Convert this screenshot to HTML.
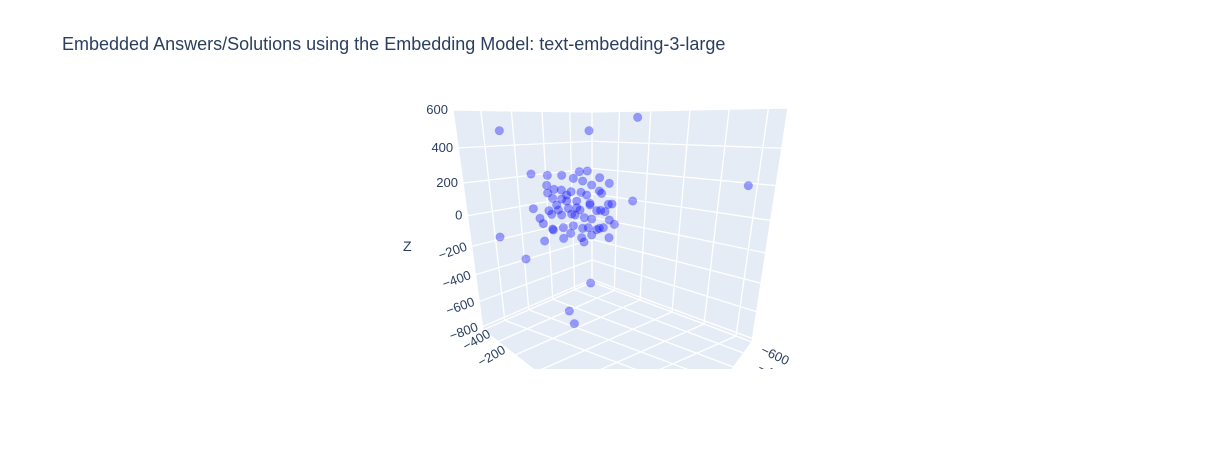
<!DOCTYPE html>
<html><head><meta charset="utf-8"><style>
body{margin:0;background:#fff;}
svg{display:block;font-family:"Liberation Sans",Arial,sans-serif;}
</style></head><body>
<svg id="chart" width="1232" height="450" viewBox="0 0 1232 450">
<text x="62" y="50" font-size="18" fill="#2a3f5f">Embedded Answers/Solutions using the Embedding Model: text-embedding-3-large</text>
<g id="scene"></g>
</svg>
<script>
// projected point positions (scene units)
const pu=[298,567,713,1045,698,393,300,378,572,508,523,400,434,442,485,538,562,599,628,520,440,462,484,548,575,443,513,543,605,598,458,485,500,530,560,625,636,570,447,475,505,530,590,615,420,455,485,515,553,575,628,643,430,458,490,520,548,565,590,598,610,460,491,512,545,552,575,627,602,570,525,500,470,540];
const pv=[107,107,67,272,318,237,426,492,564,648,686,341,438,241,241,230,228,248,265,250,271,283,285,258,270,294,290,292,295,288,310,312,318,318,300,328,327,330,347,345,340,338,347,350,370,358,360,357,368,372,375,388,386,402,398,392,400,398,404,400,398,405,430,415,428,441,420,428,346,325,360,300,330,345];
const zTicks=[600,400,200,0,-200,-400,-600,-800];
const zTickLabels=["600","400","200","0","\u2212200","\u2212400","\u2212600","\u2212800"];
const sx=u=>400+u/3, sy=v=>95+v/3;
const NS="http://www.w3.org/2000/svg";
const g=document.getElementById('scene');
function mk(t,a,p){const e=document.createElementNS(NS,t);for(const k in a)e.setAttribute(k,a[k]);(p||g).appendChild(e);return e;}
const L=(a,b,t)=>[a[0]+(b[0]-a[0])*t,a[1]+(b[1]-a[1])*t];
const LT=[453,110],LB=[483,330],BT=[592,112],BB=[592,282],RT=[788,108],RB=[752,342];
const FL=[537,372],FR=[730,372];
const bg="#e5ecf6";
let e;
e=mk('polygon',{points:[LT,BT,BB,LB].join(' '),fill:bg});

e=mk('polygon',{points:[BT,RT,RB,BB].join(' '),fill:bg});

e=mk('polygon',{points:[LB,BB,RB,FR,FL].join(' '),fill:bg});

const zt=z=>{const t=(600-z)/1400;return t*1.27/(1+0.27*t)*0.985;};
function line(a,b,n){const l=mk('line',{x1:a[0],y1:a[1],x2:b[0],y2:b[1],stroke:'#fff','stroke-width':1.3});}
zTicks.forEach((z,i)=>{const t=zt(z);
 const a=L(LT,LB,t),b=L(BT,BB,t),c=L(RT,RB,t);
 line(a,b,'z-grid-left');line(b,c,'z-grid-right');
 const tx=mk('text',{x:a[0]-5,y:a[1]+4,'font-size':13,fill:'#2a3f5f','text-anchor':'end',transform:i>=4?`rotate(-20 ${a[0]-5} ${a[1]})`:''});
 tx.textContent=zTickLabels[i];
 
});
const dRwall=[RB[0]-BB[0],RB[1]-BB[1]], dLwall=[LB[0]-BB[0],LB[1]-BB[1]];
[0.2,0.42,0.64,0.84].forEach(f=>{line(L(LT,BT,f),L(LB,BB,f),'left-wall-vgrid');const p=L(LB,BB,f);line(p,[p[0]+dRwall[0]*1.2,p[1]+dRwall[1]*1.2],'floor-grid');});
[0.14,0.3,0.5,0.7,0.9].forEach(f=>{line(L(BT,RT,f),L(BB,RB,f),'right-wall-vgrid');const p=L(BB,RB,f);line(p,[p[0]+dLwall[0]*1.2,p[1]+dLwall[1]*1.2],'floor-grid');});
line(BT,BB,'back-edge');line(LT,LB,'left-edge');line(RT,RB,'right-edge');line(LB,BB,'floor-edge');line(BB,RB,'floor-edge');
line(LB,FL,'floor-edge');line(RB,FR,'floor-edge');
pu.forEach((u,i)=>{const c=mk('circle',{cx:sx(u),cy:sy(pv[i]),r:4.3,fill:'#0000ff','fill-opacity':0.36,stroke:'#0000ff','stroke-opacity':0.1});
 });
e=mk('text',{x:403,y:251,'font-size':14,fill:'#2a3f5f'});e.textContent='Z';

[["\u2212400",466,351,-30],["\u2212200",481,367,-30],["\u2212600",760,353,25],["\u2212400",757,371,25]].forEach(d=>{
 const t=mk('text',{x:d[1],y:d[2],'font-size':13,fill:'#2a3f5f',transform:`rotate(${d[3]} ${d[1]} ${d[2]})`});t.textContent=d[0];
 });
e=mk('rect',{x:0,y:369,width:1232,height:81,fill:'#fff'});

e=mk('rect',{x:0,y:369,width:1232,height:81,fill:'#fff'});
</script>
</body></html>
